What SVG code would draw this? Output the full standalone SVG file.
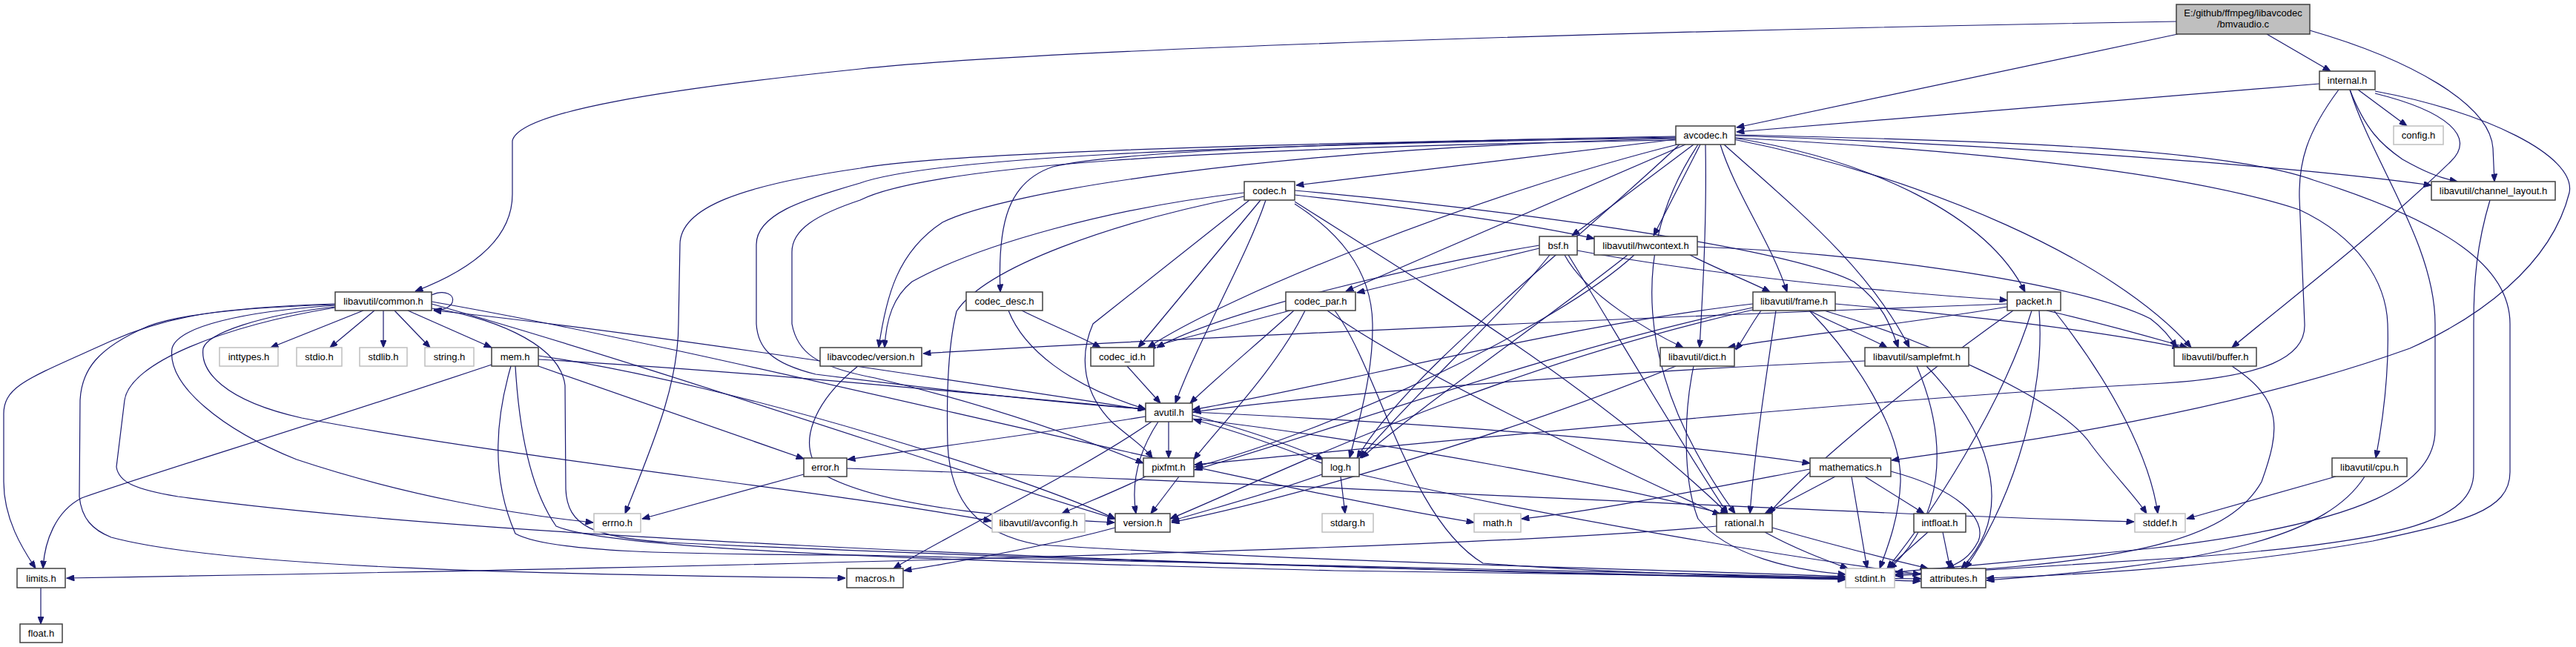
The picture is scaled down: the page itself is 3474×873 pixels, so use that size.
<svg xmlns="http://www.w3.org/2000/svg" width="3474" height="873" viewBox="0 0 3474 873">
<defs>
<marker id="a" viewBox="0 0 10 8" refX="10" refY="4" markerWidth="11" markerHeight="8" markerUnits="userSpaceOnUse" orient="auto"><path d="M0,0 L10,4 L0,8 z" fill="#191970" stroke="#191970" stroke-width="1"/></marker>
</defs>
<style>
.e{fill:none;stroke:#191970;stroke-width:1.2;marker-end:url(#a)}
.n rect{fill:#ffffff;stroke:#404040;stroke-width:1.5}
.g rect{fill:#ffffff;stroke:#bfbfbf;stroke-width:1.5}
.m rect{fill:#bfbfbf;stroke:#404040;stroke-width:1.5}
text{font-family:"Liberation Sans",Arial,sans-serif;font-size:13px;fill:#000;text-anchor:middle}
</style>
<rect x="0" y="0" width="3474" height="873" fill="#ffffff"/>
<g id="edges">
<path class="e" d="M2935,29 C2400,38 1450,62 1160,93 C900,120 700,150 691,190 L691,262 C691,330 620,370 560,393"/>
<path class="e" d="M2937,46 L2342,172"/>
<path class="e" d="M3057,46 L3143,96"/>
<path class="e" d="M3115,41 C3250,80 3358,140 3362,200 L3364,245"/>
<path class="e" d="M3128,113 L2342,178"/>
<path class="e" d="M3180,121 L3246,170"/>
<path class="e" d="M3169,121 C3190,175 3211,195 3240,215 C3270,232 3290,240 3314,245"/>
<path class="e" d="M3169,121 C3200,220 3284,330 3284,437 L3284,580 C3284,650 3200,705 2900,740 C2700,760 2600,768 2556,772"/>
<path class="e" d="M3203,126 C3300,150 3340,185 3305,218 C3200,320 3080,410 3010,469"/>
<path class="e" d="M3203,123 C3350,150 3475,210 3465,260 C3440,360 3340,430 3250,470 C3000,560 2700,600 2551,621"/>
<path class="e" d="M3154,121 C3110,180 3100,220 3101,267 L3108,437 C3110,480 3060,510 2900,518 C2500,540 1900,600 1611,627"/>
<path class="e" d="M2260,188 L1748,250"/>
<path class="e" d="M2273,195 L1815,393"/>
<path class="e" d="M2284,195 L2120,318"/>
<path class="e" d="M2293,195 L2230,318"/>
<path class="e" d="M2300,195 C2302,300 2296,400 2292,469"/>
<path class="e" d="M2320,195 C2340,260 2390,330 2410,394"/>
<path class="e" d="M2325,195 C2420,280 2520,360 2575,469"/>
<path class="e" d="M2338,186 C2520,215 2680,290 2731,394"/>
<path class="e" d="M2338,188 C2600,240 2850,350 2955,469"/>
<path class="e" d="M2340,183 C2700,195 3100,225 3279,250"/>
<path class="e" d="M2340,182 C2700,190 3000,200 3120,243 C3300,300 3385,360 3385,437 L3385,637 C3385,690 3321,704 3200,730 C3000,765 2800,776 2679,780"/>
<path class="e" d="M2340,186 C2800,210 3000,250 3101,283 C3180,320 3218,380 3220,437 C3222,500 3215,560 3204,618"/>
<path class="e" d="M2260,184 C1800,192 1500,205 1420,225 C1360,245 1345,300 1349,394"/>
<path class="e" d="M2260,185 C1600,195 1250,210 1160,227 C1000,250 917,280 917,330 L915,437 C915,520 880,600 843,693"/>
<path class="e" d="M2260,187 C1700,200 1350,260 1271,300 C1210,340 1195,400 1185,469"/>
<path class="e" d="M2262,195 C2000,260 1650,400 1548,469"/>
<path class="e" d="M2260,186 C1600,196 1250,215 1160,247 C1080,270 1020,290 1020,330 L1020,437 C1022,470 1040,490 1100,505 C1300,530 1450,545 1545,552"/>
<path class="e" d="M2260,189 C1600,200 1250,225 1160,270 C1100,290 1068,310 1068,340 L1068,437 C1075,475 1100,495 1180,510 C1350,550 1480,600 1542,625"/>
<path class="e" d="M2265,195 C2100,350 1900,500 1830,618"/>
<path class="e" d="M2290,195 C2200,330 2200,500 2340,693"/>
<path class="e" d="M1678,260 C1500,280 1320,330 1230,380 C1205,400 1195,430 1193,469"/>
<path class="e" d="M1678,265 C1500,300 1330,360 1290,420 C1280,460 1276,520 1278,600 C1282,680 1320,720 1400,735 C1800,760 2300,770 2489,778"/>
<path class="e" d="M1707,270 C1680,350 1620,450 1585,544"/>
<path class="e" d="M1700,270 L1535,469"/>
<path class="e" d="M1685,270 L1474,437 C1455,480 1460,530 1500,570 C1530,595 1545,605 1554,618"/>
<path class="e" d="M1746,263 C1900,280 2050,300 2150,322"/>
<path class="e" d="M1746,257 C2000,280 2400,330 2500,380 C2540,410 2550,440 2560,469"/>
<path class="e" d="M1746,272 C1900,370 2150,520 2330,693"/>
<path class="e" d="M1746,275 C1800,310 1850,360 1851,437 C1852,500 1835,560 1820,618"/>
<path class="e" d="M1378,419 C1420,440 1460,455 1484,469"/>
<path class="e" d="M1360,419 C1380,470 1440,520 1545,552"/>
<path class="e" d="M1745,419 C1700,460 1640,510 1605,544"/>
<path class="e" d="M1760,419 C1720,500 1640,580 1610,620"/>
<path class="e" d="M1740,419 L1548,469"/>
<path class="e" d="M1790,419 C1900,500 2200,640 2320,695"/>
<path class="e" d="M1800,419 C1860,500 1900,700 2000,760 C2200,775 2400,778 2489,781"/>
<path class="e" d="M2076,335 L1830,395"/>
<path class="e" d="M2076,331 C1900,360 1650,420 1560,469"/>
<path class="e" d="M2090,344 C2030,420 1900,540 1834,618"/>
<path class="e" d="M2110,344 C2140,400 2230,450 2270,469"/>
<path class="e" d="M2115,344 C2180,450 2280,620 2330,693"/>
<path class="e" d="M2127,338 C2300,370 2550,395 2707,405"/>
<path class="e" d="M2289,333 C2500,340 2800,380 2900,430 C2920,445 2930,460 2935,469"/>
<path class="e" d="M2279,344 C2320,365 2360,380 2387,394"/>
<path class="e" d="M2195,344 C2100,420 1900,560 1836,618"/>
<path class="e" d="M2204,344 C2100,440 1800,580 1612,630"/>
<path class="e" d="M2364,410 C2100,440 1800,520 1608,553"/>
<path class="e" d="M2364,415 C2100,470 1800,580 1611,634"/>
<path class="e" d="M2375,419 C2360,440 2350,460 2341,472"/>
<path class="e" d="M2395,419 C2380,520 2365,620 2360,693"/>
<path class="e" d="M2440,419 C2480,440 2520,455 2545,469"/>
<path class="e" d="M2440,419 C2500,480 2565,580 2563,650 C2561,700 2545,740 2535,767"/>
<path class="e" d="M2460,419 C2600,460 2780,540 2820,600 C2850,640 2880,670 2895,693"/>
<path class="e" d="M2475,410 C2700,430 2850,450 2940,469"/>
<path class="e" d="M2364,418 C2000,500 1700,650 1578,700"/>
<path class="e" d="M2707,410 C2300,425 1600,455 1245,477"/>
<path class="e" d="M2707,414 C2550,440 2400,455 2330,469"/>
<path class="e" d="M2760,419 C2850,440 2900,455 2950,469"/>
<path class="e" d="M2715,419 C2600,500 2450,620 2385,693"/>
<path class="e" d="M2740,419 C2700,550 2600,700 2545,767"/>
<path class="e" d="M2750,419 C2760,550 2700,700 2650,767"/>
<path class="e" d="M2770,419 C2850,520 2900,620 2910,693"/>
<path class="e" d="M2260,494 C2100,560 1800,660 1580,705"/>
<path class="e" d="M2284,494 C2270,560 2270,650 2290,700 C2330,750 2420,770 2489,775"/>
<path class="e" d="M2515,487 C2200,500 1800,530 1609,556"/>
<path class="e" d="M2585,494 C2630,600 2620,700 2548,768"/>
<path class="e" d="M2598,494 C2700,600 2710,700 2645,767"/>
<path class="e" d="M3010,494 C3080,540 3075,580 3050,650 C3010,720 2900,760 2556,775"/>
<path class="e" d="M3150,643 L2949,700"/>
<path class="e" d="M3189,643 C3140,720 3000,760 2679,783"/>
<path class="e" d="M3358,270 C3340,330 3336,380 3336,437 L3336,637 C3336,700 3250,730 2950,752 C2750,765 2620,772 2556,777"/>
<path class="e" d="M1545,553 C1200,500 800,440 585,419"/>
<path class="e" d="M1545,562 C1400,585 1250,605 1143,620"/>
<path class="e" d="M1553,569 C1450,640 1300,710 1205,767"/>
<path class="e" d="M1562,569 C1535,610 1525,650 1532,693"/>
<path class="e" d="M1576,569 L1576,618"/>
<path class="e" d="M1608,560 C1680,580 1740,600 1785,620"/>
<path class="e" d="M1608,556 C1900,570 2200,590 2441,625"/>
<path class="e" d="M1608,565 C1900,600 2200,660 2330,695"/>
<path class="e" d="M1783,625 C1720,600 1660,580 1610,566"/>
<path class="e" d="M1808,643 L1814,693"/>
<path class="e" d="M1783,640 C1700,670 1620,690 1580,703"/>
<path class="e" d="M1833,640 C2100,700 2400,750 2590,775"/>
<path class="e" d="M1545,643 C1500,665 1460,680 1432,693"/>
<path class="e" d="M1590,643 L1552,693"/>
<path class="e" d="M2475,643 L2380,693"/>
<path class="e" d="M2497,643 L2518,767"/>
<path class="e" d="M2515,643 L2595,693"/>
<path class="e" d="M2441,633 C2300,660 2150,690 2052,700"/>
<path class="e" d="M2550,636 C2640,660 2680,700 2668,730 C2655,755 2640,760 2625,767"/>
<path class="e" d="M2600,718 L2545,767"/>
<path class="e" d="M2620,718 L2630,767"/>
<path class="e" d="M2315,710 C2000,740 1000,765 90,780"/>
<path class="e" d="M2380,718 C2420,740 2460,755 2492,767"/>
<path class="e" d="M2390,712 C2470,735 2550,755 2600,767"/>
<path class="e" d="M1084,640 L866,700"/>
<path class="e" d="M1142,632 C1700,650 2400,690 2878,704"/>
<path class="e" d="M663,492 C400,580 200,640 110,672 C75,690 60,730 58,767"/>
<path class="e" d="M689,494 C670,560 660,640 695,720 C740,745 900,748 1160,749 C1800,760 2300,772 2489,779"/>
<path class="e" d="M695,494 C700,580 715,660 750,710 C820,740 1200,755 1800,770 C2200,775 2450,780 2591,781"/>
<path class="e" d="M726,494 L1084,619"/>
<path class="e" d="M726,485 C1000,500 1300,530 1545,552"/>
<path class="e" d="M726,480 C1000,520 1400,650 1504,700"/>
<path class="e" d="M490,419 L365,469"/>
<path class="e" d="M505,419 L445,469"/>
<path class="e" d="M517,419 L517,469"/>
<path class="e" d="M532,419 L580,469"/>
<path class="e" d="M550,419 L663,469"/>
<path class="e" d="M452,410 C300,415 230,425 150,460 C40,510 4,520 5,560 L5,650 C5,700 30,740 48,767"/>
<path class="e" d="M452,412 C330,420 240,440 232,470 C225,520 300,580 400,620 C550,670 700,695 800,705"/>
<path class="e" d="M452,414 C350,425 280,450 274,470 C270,500 300,540 407,564 C700,620 1100,660 1337,703"/>
<path class="e" d="M452,415 C300,440 175,490 168,540 L157,630 C160,650 180,660 240,670 C600,720 1400,760 2489,782"/>
<path class="e" d="M452,411 C320,415 240,425 200,440 C130,470 110,500 108,540 L107,670 C110,700 125,715 150,725 C300,765 700,775 1140,780"/>
<path class="e" d="M582,407 C1000,480 1600,640 1988,705"/>
<path class="e" d="M582,410 C900,500 1300,640 1504,700"/>
<path class="e" d="M582,416 C650,425 755,460 762,520 L763,660 C765,710 800,725 900,732 C1500,760 2200,775 2590,784"/>
<path class="e" d="M582,398 C600,390 614,398 610,408 C607,415 597,419 585,418"/>
<path class="e" d="M1157,494 C1100,540 1070,600 1110,640 C1200,690 1400,700 1503,705"/>
<path class="e" d="M1504,712 C1400,740 1280,760 1219,770"/>
<path class="e" d="M55,793 L55,842"/>
<path class="e" d="M1520,494 L1565,544"/>
</g>
<g id="node-main" class="m"><rect x="2935" y="6" width="180" height="40"/><text x="3025" y="22">E:/github/ffmpeg/libavcodec</text><text x="3025" y="37">/bmvaudio.c</text></g>
<g id="node-internal" class="n"><rect x="3128" y="96" width="75" height="25"/><text x="3165.5" y="113">internal.h</text></g>
<g id="node-avcodec" class="n"><rect x="2260" y="170" width="80" height="25"/><text x="2300" y="187">avcodec.h</text></g>
<g id="node-config" class="g"><rect x="3228" y="170" width="67" height="25"/><text x="3261.5" y="187">config.h</text></g>
<g id="node-codec" class="n"><rect x="1678" y="245" width="68" height="25"/><text x="1712" y="262">codec.h</text></g>
<g id="node-channel_layout" class="n"><rect x="3279" y="245" width="167" height="25"/><text x="3362.5" y="262">libavutil/channel_layout.h</text></g>
<g id="node-bsf" class="n"><rect x="2076" y="319" width="51" height="25"/><text x="2101.5" y="336">bsf.h</text></g>
<g id="node-hwcontext" class="n"><rect x="2150" y="319" width="139" height="25"/><text x="2219.5" y="336">libavutil/hwcontext.h</text></g>
<g id="node-common" class="n"><rect x="452" y="394" width="130" height="25"/><text x="517" y="411">libavutil/common.h</text></g>
<g id="node-codec_desc" class="n"><rect x="1303" y="394" width="103" height="25"/><text x="1354.5" y="411">codec_desc.h</text></g>
<g id="node-codec_par" class="n"><rect x="1734" y="394" width="94" height="25"/><text x="1781" y="411">codec_par.h</text></g>
<g id="node-frame" class="n"><rect x="2364" y="394" width="111" height="25"/><text x="2419.5" y="411">libavutil/frame.h</text></g>
<g id="node-packet" class="n"><rect x="2707" y="394" width="72" height="25"/><text x="2743" y="411">packet.h</text></g>
<g id="node-inttypes" class="g"><rect x="296" y="469" width="79" height="25"/><text x="335.5" y="486">inttypes.h</text></g>
<g id="node-stdio" class="g"><rect x="400" y="469" width="61" height="25"/><text x="430.5" y="486">stdio.h</text></g>
<g id="node-stdlib" class="g"><rect x="485" y="469" width="64" height="25"/><text x="517" y="486">stdlib.h</text></g>
<g id="node-string" class="g"><rect x="573" y="469" width="66" height="25"/><text x="606" y="486">string.h</text></g>
<g id="node-mem" class="n"><rect x="663" y="469" width="63" height="25"/><text x="694.5" y="486">mem.h</text></g>
<g id="node-lavc_version" class="n"><rect x="1106" y="469" width="137" height="25"/><text x="1174.5" y="486">libavcodec/version.h</text></g>
<g id="node-codec_id" class="n"><rect x="1471" y="469" width="85" height="25"/><text x="1513.5" y="486">codec_id.h</text></g>
<g id="node-dict" class="n"><rect x="2239" y="469" width="100" height="25"/><text x="2289" y="486">libavutil/dict.h</text></g>
<g id="node-samplefmt" class="n"><rect x="2515" y="469" width="140" height="25"/><text x="2585" y="486">libavutil/samplefmt.h</text></g>
<g id="node-buffer" class="n"><rect x="2932" y="469" width="111" height="25"/><text x="2987.5" y="486">libavutil/buffer.h</text></g>
<g id="node-avutil" class="n"><rect x="1545" y="544" width="63" height="25"/><text x="1576.5" y="561">avutil.h</text></g>
<g id="node-error" class="n"><rect x="1084" y="618" width="58" height="25"/><text x="1113" y="635">error.h</text></g>
<g id="node-pixfmt" class="n"><rect x="1542" y="618" width="68" height="25"/><text x="1576" y="635">pixfmt.h</text></g>
<g id="node-log" class="n"><rect x="1783" y="618" width="50" height="25"/><text x="1808" y="635">log.h</text></g>
<g id="node-mathematics" class="n"><rect x="2441" y="618" width="109" height="25"/><text x="2495.5" y="635">mathematics.h</text></g>
<g id="node-cpu" class="n"><rect x="3145" y="618" width="101" height="25"/><text x="3195.5" y="635">libavutil/cpu.h</text></g>
<g id="node-errno" class="g"><rect x="801" y="693" width="63" height="25"/><text x="832.5" y="710">errno.h</text></g>
<g id="node-avconfig" class="g"><rect x="1338" y="693" width="125" height="25"/><text x="1400.5" y="710">libavutil/avconfig.h</text></g>
<g id="node-version" class="n"><rect x="1504" y="693" width="74" height="25"/><text x="1541" y="710">version.h</text></g>
<g id="node-stdarg" class="g"><rect x="1783" y="693" width="69" height="25"/><text x="1817.5" y="710">stdarg.h</text></g>
<g id="node-math" class="g"><rect x="1988" y="693" width="63" height="25"/><text x="2019.5" y="710">math.h</text></g>
<g id="node-rational" class="n"><rect x="2315" y="693" width="75" height="25"/><text x="2352.5" y="710">rational.h</text></g>
<g id="node-intfloat" class="n"><rect x="2581" y="693" width="70" height="25"/><text x="2616" y="710">intfloat.h</text></g>
<g id="node-stddef" class="g"><rect x="2879" y="693" width="68" height="25"/><text x="2913" y="710">stddef.h</text></g>
<g id="node-limits" class="n"><rect x="23" y="767" width="65" height="26"/><text x="55.5" y="785">limits.h</text></g>
<g id="node-macros" class="n"><rect x="1142" y="767" width="76" height="26"/><text x="1180" y="785">macros.h</text></g>
<g id="node-stdint" class="g"><rect x="2489" y="767" width="66" height="26"/><text x="2522" y="785">stdint.h</text></g>
<g id="node-attributes" class="n"><rect x="2591" y="767" width="87" height="26"/><text x="2634.5" y="785">attributes.h</text></g>
<g id="node-float" class="n"><rect x="27" y="842" width="57" height="25"/><text x="55.5" y="859">float.h</text></g>
</svg>
